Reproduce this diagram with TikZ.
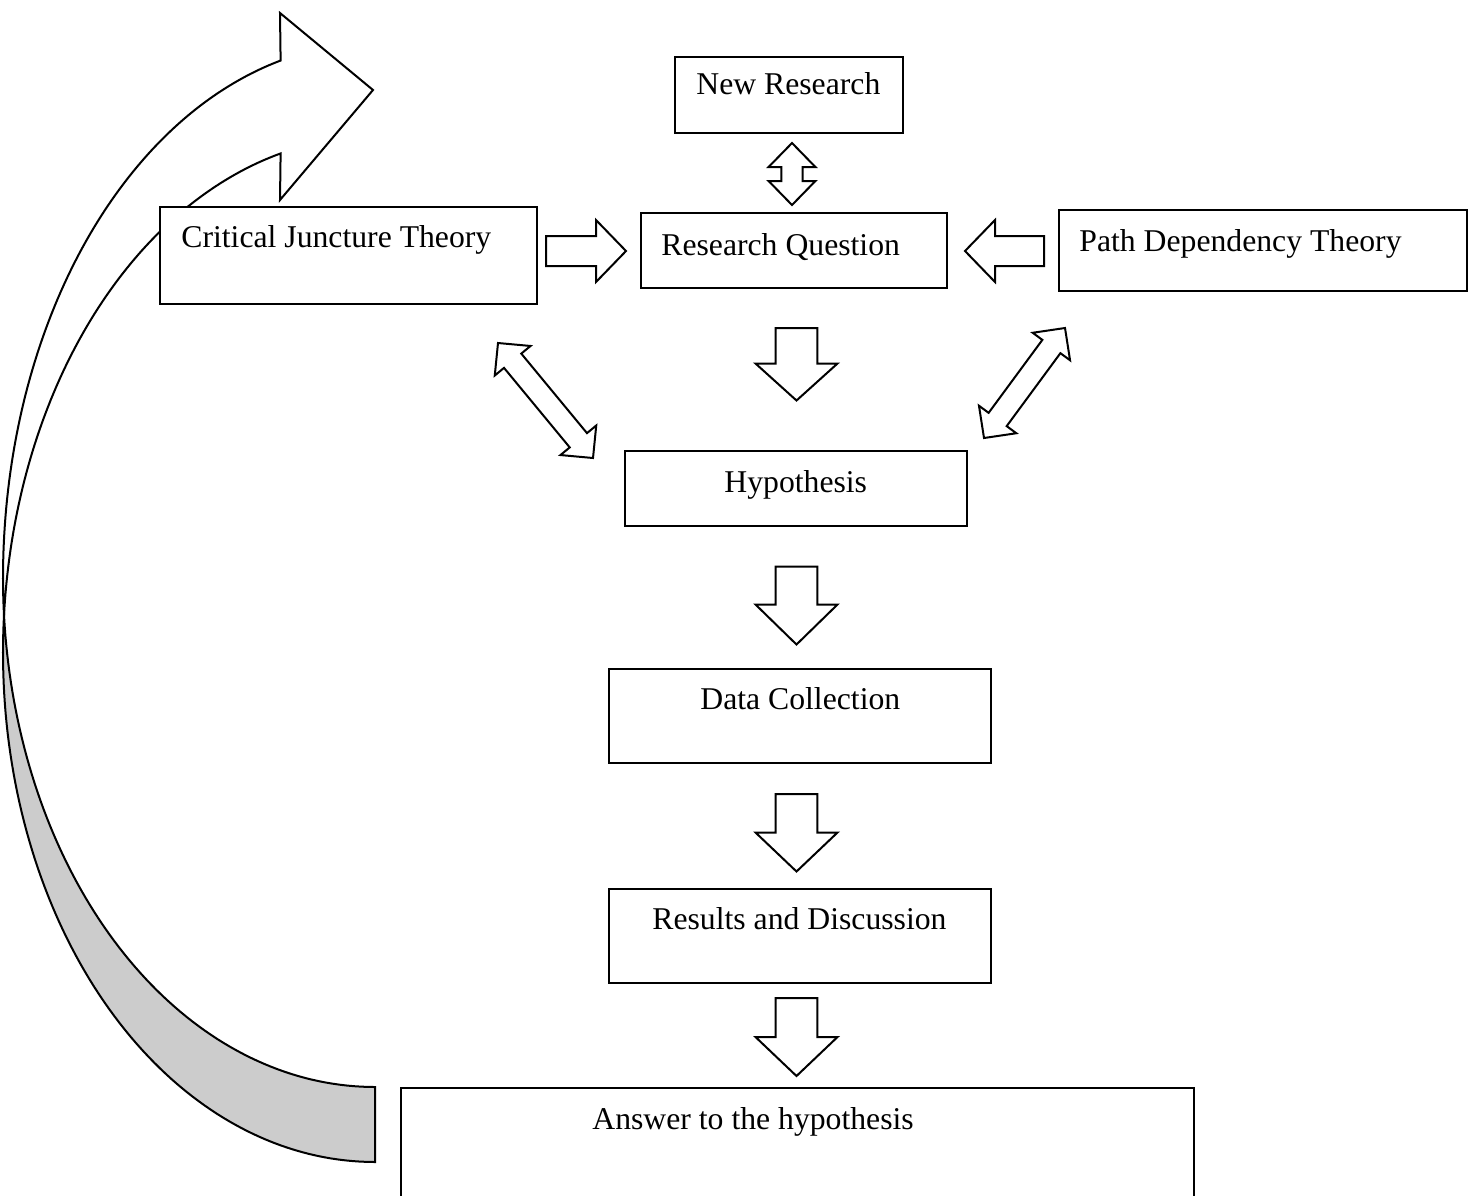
\documentclass[tikz,border=0pt]{standalone}
\usepackage{fontspec}
\setmainfont{Liberation Serif}
\usetikzlibrary{calc,fit}
\tikzset{
  box/.style={draw=black, line width=0.6pt, fill=white, rectangle, inner sep=0pt},
  txt/.style={inner sep=0pt, anchor=base west, font=\fontsize{15.85}{19}\selectfont},
  blk/.style={draw=black, line width=1pt, fill=white, line join=miter},
  curv/.style={draw=black, line width=1pt, line join=miter},
}
\newcommand\blockarr[5]{%
  \coordinate (ba-h) at ($(#2)!#5!(#1)$);
  \draw[blk] ($(#1)!#3!90:(#2)$) -- ($(ba-h)!#3!90:(#2)$) -- ($(ba-h)!#4!90:(#2)$) -- (#2)
     -- ($(ba-h)!#4!-90:(#2)$) -- ($(ba-h)!#3!-90:(#2)$) -- ($(#1)!#3!-90:(#2)$) -- cycle;
}
\newcommand\dblarr[5]{%
  \coordinate (da-a) at ($(#1)!#5!(#2)$);
  \coordinate (da-b) at ($(#2)!#5!(#1)$);
  \draw[blk] (#1) -- ($(da-a)!#4!90:(#2)$) -- ($(da-a)!#3!90:(#2)$) -- ($(da-b)!#3!-90:(#1)$)
     -- ($(da-b)!#4!-90:(#1)$) -- (#2) -- ($(da-b)!#4!90:(#1)$) -- ($(da-b)!#3!90:(#1)$)
     -- ($(da-a)!#3!-90:(#2)$) -- ($(da-a)!#4!-90:(#2)$) -- cycle;
}
\begin{document}
\begin{tikzpicture}[x=0.5pt, y=-0.5pt]
\useasboundingbox (0,0) rectangle (1475,1195);

% curved feedback arrow: back face (grey)
\filldraw[curv, fill=black!20]
  plot[domain=4.2:0, samples=20] ({375-372*cos(\x)},{653-516.5*sin(\x)})
  -- plot[domain=0:90, samples=80] ({375-372*cos(\x)},{653+509*sin(\x)})
  -- (375,1087)
  -- plot[domain=90:4.19, samples=80] ({375-372*cos(\x)},{578+509*sin(\x)})
  -- cycle;
% front face (white) with head
\filldraw[curv, fill=white]
  plot[domain=4.19:0, samples=20] ({375-372*cos(\x)},{578+509*sin(\x)})
  -- plot[domain=0:75.3, samples=80] ({375-372*cos(\x)},{578-535*sin(\x)})
  -- (280,13) -- (373,90) -- (280,200)
  -- plot[domain=75.3:4.2, samples=80] ({375-372*cos(\x)},{653-516.5*sin(\x)})
  -- cycle;

% boxes
\node[box, fit={(675,57) (903,133)}] (nr) {};
\node[box, fit={(641,213) (947,288)}] (rq) {};
\node[box, fit={(160,207) (537,304)}] (cj) {};
\node[box, fit={(1059,210) (1467,291)}] (pd) {};
\node[box, fit={(625,451) (967,526)}] (hy) {};
\node[box, fit={(609,669) (991,763)}] (dc) {};
\node[box, fit={(609,889) (991,983)}] (rd) {};
\node[box, fit={(401,1088) (1194,1200)}] (an) {};

% texts
\node[txt] (nrt) at (696,94) {New Research};
\node[txt] (rqt) at (661,255) {Research Question};
\node[txt] (cjt) at (181,247) {Critical Juncture Theory};
\node[txt] (pdt) at (1079,251) {Path Dependency Theory};
\node[txt] (hyt) at (724,492) {Hypothesis};
\node[txt] (dct) at (700,709) {Data Collection};
\node[txt] (rdt) at (652,929) {Results and Discussion};
\node[txt] (ant) at (592,1129) {Answer to the hypothesis};

% arrow end coordinates
\coordinate (u1) at (792,143);
\coordinate (u2) at (792,205);
\coordinate (r1) at (546,251);
\coordinate (r2) at (626,251);
\coordinate (l1) at (1044,251);
\coordinate (l2) at (965,251);
\coordinate (d1a) at (796.5,328);
\coordinate (d1b) at (796.5,400.5);
\coordinate (d2a) at (796.5,566.5);
\coordinate (d2b) at (796.5,644.5);
\coordinate (d3a) at (796.5,794);
\coordinate (d3b) at (796.5,871.5);
\coordinate (d4a) at (796.5,998);
\coordinate (d4b) at (796.5,1076);
\coordinate (gl1) at (498,343);
\coordinate (gl2) at (593,458);
\coordinate (gr1) at (1065,328);
\coordinate (gr2) at (984,438);

% block arrows
\dblarr{u1}{u2}{5.3pt}{11.7pt}{12pt}
\blockarr{r1}{r2}{7.5pt}{15.5pt}{15pt}
\blockarr{l1}{l2}{7.5pt}{15.5pt}{15pt}
\blockarr{d1a}{d1b}{10.4pt}{20.5pt}{18.5pt}
\blockarr{d2a}{d2b}{10.4pt}{20.5pt}{20pt}
\blockarr{d3a}{d3b}{10.4pt}{20.5pt}{19.5pt}
\blockarr{d4a}{d4b}{10.4pt}{20.5pt}{19.5pt}
\dblarr{gl1}{gl2}{5.6pt}{11.6pt}{11.5pt}
\dblarr{gr1}{gr2}{5.6pt}{11.6pt}{11.5pt}
\end{tikzpicture}
\end{document}
